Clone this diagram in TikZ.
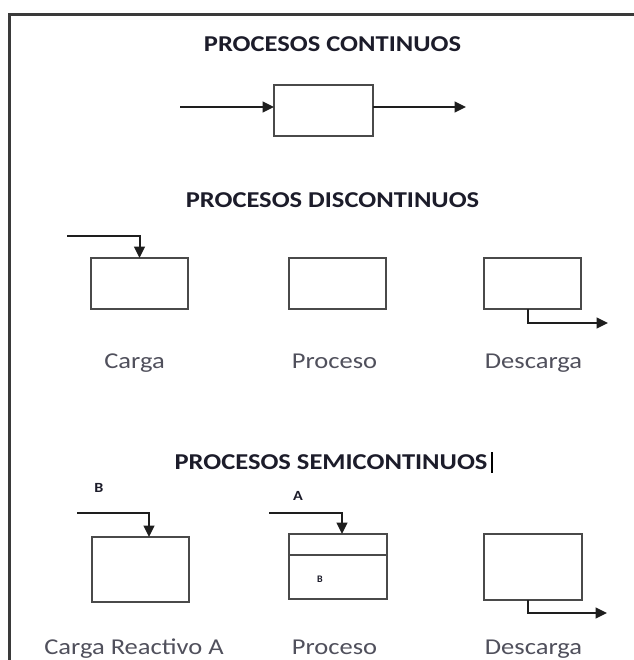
\documentclass[tikz,border=0pt]{standalone}
\usepackage{fontspec}
\setmainfont{Carlito}
\usetikzlibrary{arrows.meta}

\definecolor{framegray}{HTML}{3A3A3A}
\definecolor{boxgray}{HTML}{4A4A4A}
\definecolor{linkgray}{HTML}{1E1E1E}
\definecolor{titleink}{HTML}{1C1C2A}
\definecolor{labelink}{HTML}{50505C}

\begin{document}
\begin{tikzpicture}[x=0.75pt,y=-0.75pt,
  frameline/.style={draw=framegray, line width=2.1pt},
  unitbox/.style={draw=boxgray, line width=1.6pt, inner sep=0pt, outer sep=0pt},
  boxwh/.style 2 args={minimum width=#1*0.75pt, minimum height=#2*0.75pt},
  divider/.style={draw=boxgray, line width=1.6pt},
  flow/.style={draw=linkgray, line width=1.5pt,
    -{Triangle[length=8.5pt,width=8pt]}},
  heading/.style={anchor=base, inner sep=0pt, text=titleink,
    font=\fontsize{17pt}{20pt}\selectfont\bfseries},
  caption/.style={anchor=base, inner sep=0pt, text=labelink,
    font=\fontsize{17pt}{20pt}\selectfont},
  tag/.style={anchor=base, inner sep=0pt, text=titleink,
    font=\fontsize{10.5pt}{12pt}\selectfont\bfseries},
  tinytag/.style={anchor=base, inner sep=0pt, text=titleink,
    font=\fontsize{7.5pt}{9pt}\selectfont\bfseries},
]
\useasboundingbox (0,0) rectangle (634,660);
\fill[white] (0,0) rectangle (634,660);

% outer frame (top and left edges)
\draw[frameline] (9.5,660) -- (9.5,14.7) -- (634,14.7);

% ---------- continuous process ----------
\node[heading] (tcont) at (332.5,52) {\scalebox{1.17}[1]{PROCESOS CONTINUOS}};
\node[unitbox, boxwh={99}{51}] (c0) at (323.5,110.5) {};
\coordinate (cin) at (180,107);
\coordinate (cout) at (466,107);
\draw[flow] (cin) -- (cin -| c0.west);
\draw[flow] (cout -| c0.east) -- (cout);

% ---------- batch process ----------
\node[heading] (tdisc) at (332.5,207) {\scalebox{1.17}[1]{PROCESOS DISCONTINUOS}};
\node[unitbox, boxwh={97}{51}] (d1) at (139.5,283.5) {};
\node[unitbox, boxwh={97}{51}] (d2) at (337.5,283.5) {};
\node[unitbox, boxwh={97}{51}] (d3) at (532.5,283.5) {};
\coordinate (d1in) at (67,236);
\draw[flow] (d1in) -| (d1.north);
\coordinate (d3drop) at (528,0);
\coordinate (d3out) at (608,323);
\draw[flow] (d3drop |- d3.south) |- (d3out);
\node[caption] (ld1) at (134.5,368) {\scalebox{1.17}[1]{Carga}};
\node[caption] (ld2) at (334.5,368) {\scalebox{1.17}[1]{Proceso}};
\node[caption] (ld3) at (533.5,368) {\scalebox{1.17}[1]{Descarga}};

% ---------- semi-batch process ----------
\node[heading] (tsemi) at (331,469) {\scalebox{1.17}[1]{PROCESOS SEMICONTINUOS}};
\draw[draw=black, line width=1.4pt] (492,452) -- (492,473);
\node[unitbox, boxwh={97}{65}] (s1) at (140.5,569.5) {};
\node[unitbox, boxwh={98}{65}] (s2) at (338,566.5) {};
\node[unitbox, boxwh={98}{66}] (s3) at (533,567) {};
\draw[divider] (s2.west |- 0,555) -- (s2.east |- 0,555);

\coordinate (s1in) at (77,513);
\coordinate (s1drop) at (149,0);
\draw[flow] (s1in) -| (s1drop |- s1.north);
\coordinate (s2in) at (269,513);
\coordinate (s2drop) at (342,0);
\draw[flow] (s2in) -| (s2drop |- s2.north);
\coordinate (s3drop) at (528,0);
\coordinate (s3out) at (607,613);
\draw[flow] (s3drop |- s3.south) |- (s3out);

\node[tag] (tagb) at (99,492) {\scalebox{1.15}[1]{B}};
\node[tag] (taga) at (298,500) {\scalebox{1.15}[1]{A}};
\node[tinytag] (tagb2) at (320,582) {B};

\node[caption] (ls1) at (134,654) {\scalebox{1.17}[1]{Carga Reactivo A}};
\node[caption] (ls2) at (334.5,654) {\scalebox{1.17}[1]{Proceso}};
\node[caption] (ls3) at (533.5,654) {\scalebox{1.17}[1]{Descarga}};
\end{tikzpicture}
\end{document}
